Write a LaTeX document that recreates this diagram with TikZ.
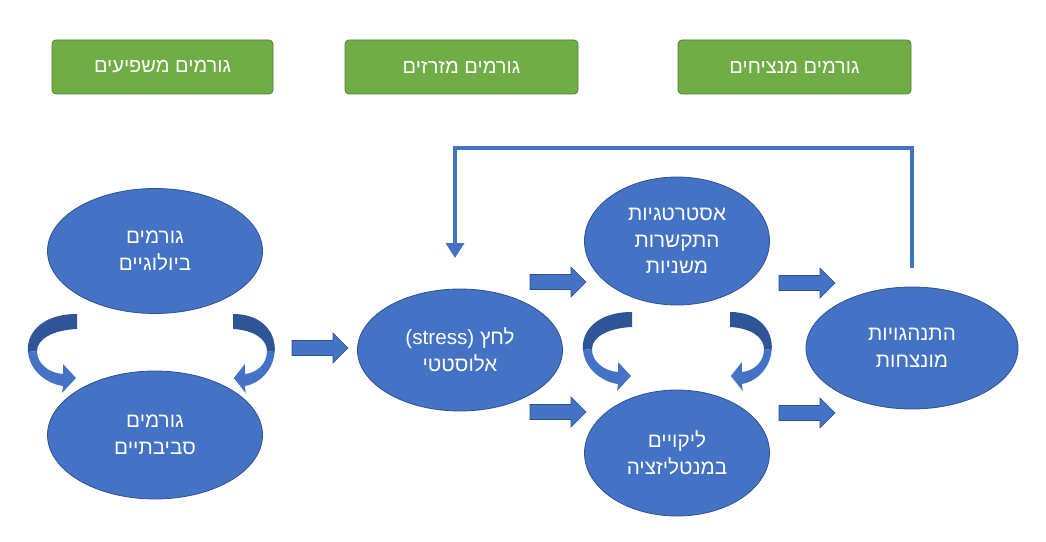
\documentclass[tikz,border=0pt]{standalone}
\usepackage{fontspec}
\setmainfont{Liberation Sans}
\newfontfamily\heb[Script=Hebrew]{Liberation Sans}
\TeXXeTstate=1
\usetikzlibrary{shapes.geometric,arrows.meta}
\definecolor{blue1}{HTML}{4472C4}
\definecolor{blueb}{HTML}{2F528F}
\definecolor{cdark}{HTML}{2F5597}
\definecolor{green1}{HTML}{70AD47}
\definecolor{greenb}{HTML}{507E32}
\begin{document}
\begin{tikzpicture}[x=0.75pt,y=-0.75pt,
  ell/.style={ellipse,fill=blue1,draw=blueb,line width=0.6pt,inner sep=0pt,text=white,align=center,font=\heb\fontsize{15.5}{20}\selectfont},
  gbox/.style={rectangle,rounded corners=3pt,fill=green1,draw=greenb,line width=0.6pt,minimum height=40.5pt,text=white,font=\heb\fontsize{15}{18}\selectfont},
  fb/.style={draw=blue1,line width=3pt,line join=miter,-{Triangle[width=13.5pt,length=11.25pt]}},
  barrow/.pic={\filldraw[fill=blue1,draw=blueb,line width=0.4pt] (0,-7.5) -- (41,-7.5) -- (41,-15) -- (56,0) -- (41,15) -- (41,7.5) -- (0,7.5) -- cycle;},
  curvedarr/.pic={
    \fill[cdark] (0,0) .. controls (-37,0) and (-51,21) .. (-49,38) -- (-40,37) .. controls (-40,25) and (-24,16) .. (0,15) -- cycle;
    \fill[blue1] (-49,38) .. controls (-47,58) and (-29,70) .. (-14,72) -- (-15,79) -- (-1,64) -- (-14,50) -- (-14,60) .. controls (-28,59) and (-40,50) .. (-40,37) -- cycle;
  }]
\useasboundingbox (0,0) rectangle (1046,542);
\fill[white] (0,0) rectangle (1046,542);

% green headers
\node[gbox,minimum width=165.75pt] (g1) at (162.5,67) {\beginR גורמים משפיעים\endR};
\node[gbox,minimum width=174.75pt] (g2) at (461.5,67) {\beginR גורמים מזרזים\endR};
\node[gbox,minimum width=174.75pt] (g3) at (794.5,67) {\beginR גורמים מנציחים\endR};

% ellipses
\node[ell,minimum width=161.25pt,minimum height=93.75pt] (bio) at (155,251) {\beginR גורמים\endR\\\beginR ביולוגיים\endR};
\node[ell,minimum width=161.25pt,minimum height=96pt] (env) at (155,435) {\beginR גורמים\endR\\\beginR סביבתיים\endR};
\node[ell,minimum width=153.75pt,minimum height=91.5pt] (stress) at (460,350) {\beginR לחץ \beginL(stress)\endL\endR\\\beginR אלוסטטי\endR};
\node[ell,minimum width=138.75pt,minimum height=96pt] (strat) at (677,241) {\beginR אסטרטגיות\endR\\\beginR התקשרות\endR\\\beginR משניות\endR};
\node[ell,minimum width=138.75pt,minimum height=94.5pt] (lapse) at (677,453) {\beginR ליקויים\endR\\\beginR במנטליזציה\endR};
\node[ell,minimum width=159pt,minimum height=91.5pt] (out) at (912,348) {\beginR התנהגויות\endR\\\beginR מונצחות\endR};

% block arrows
\coordinate (a1) at (292,348);
\coordinate (a2) at (530,282);
\coordinate (a3) at (530,412);
\coordinate (a4) at (779,283);
\coordinate (a5) at (779,413);
\foreach \c in {a1,a2,a3,a4,a5} \pic at (\c) {barrow};

% curved arrows
\pic at (77,314) {curvedarr};
\pic[xscale=-0.85] at (233,314) {curvedarr};
\pic at (632,312) {curvedarr};
\pic[xscale=-0.85] at (730,312) {curvedarr};

% feedback loop
\coordinate (fbA) at (912,268);
\coordinate (fbB) at (912,148);
\coordinate (fbC) at (455,148);
\coordinate (fbD) at (455,258);
\draw[fb] (fbA) -- (fbB) -- (fbC) -- (fbD);
\end{tikzpicture}
\end{document}
